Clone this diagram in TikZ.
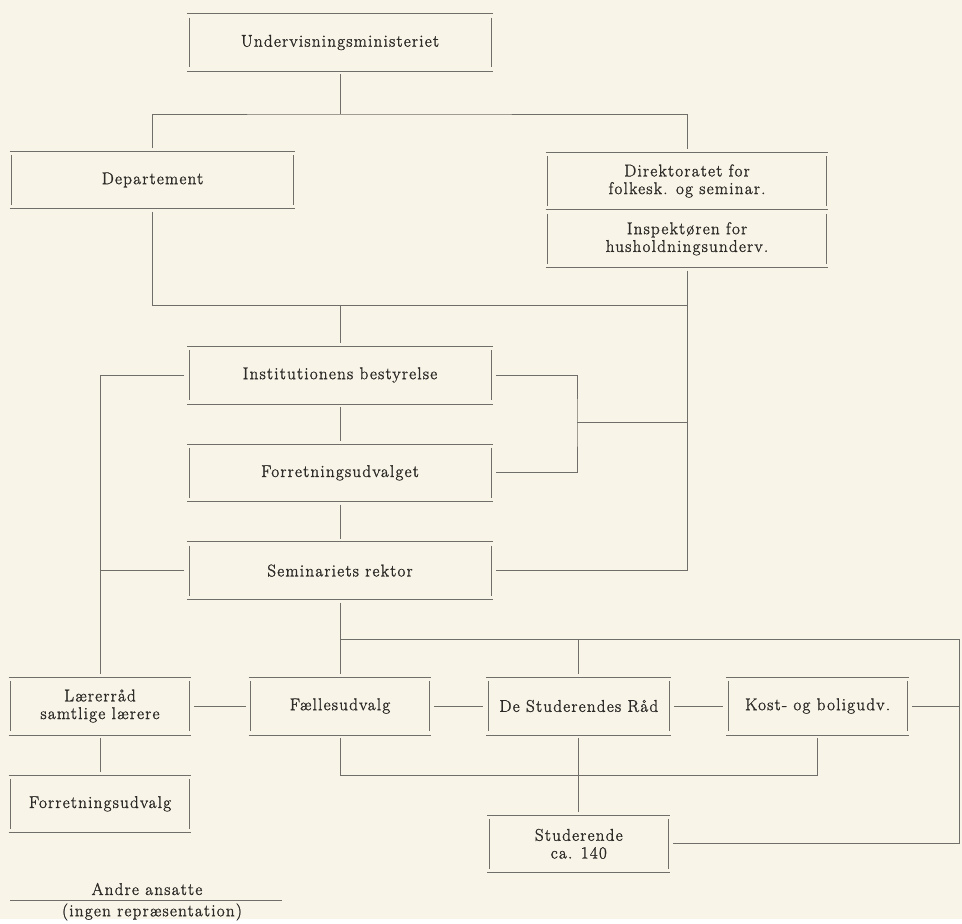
\documentclass[tikz,border=0pt]{standalone}
\usepackage{fontspec}
\setmainfont{Latin Modern Roman}[LetterSpace=7.5, FakeBold=1.5]
\usepackage{xcolor}
\usetikzlibrary{positioning}

\definecolor{paper}{RGB}{248,244,232}
\definecolor{ink}{RGB}{45,43,40}
\definecolor{rule}{RGB}{112,110,104}

\begin{document}
\begin{tikzpicture}[x=1pt, y=-1pt, node distance=34pt,
		font=\fontsize{17}{17.7}\selectfont, text=ink,
		every path/.style={draw=rule, line width=0.8pt},
		boxline/.style={draw=rule, line width=0.8pt},
		box/.style={inner sep=0pt, minimum height=63pt, align=center,
			append after command={
				([shift={(3pt,-3pt)}]\tikzlastnode.north west) edge[boxline] ([shift={(-3pt,-3pt)}]\tikzlastnode.north east)
				([shift={(3pt,3pt)}]\tikzlastnode.south west) edge[boxline] ([shift={(-3pt,3pt)}]\tikzlastnode.south east)
				([shift={(5pt,-7pt)}]\tikzlastnode.north west) edge[boxline] ([shift={(5pt,7pt)}]\tikzlastnode.south west)
				([shift={(-5pt,-7pt)}]\tikzlastnode.north east) edge[boxline] ([shift={(-5pt,7pt)}]\tikzlastnode.south east)
			}},
		wide/.style={box, minimum width=311pt},
		small/.style={box, minimum width=188pt}]

			\fill[paper, draw=none] (0,0) rectangle (962,919);

			\node[wide] (minist) at (340,42.5) {Undervisningsministeriet};
			\node[box, minimum width=291pt] (dept) at (152.5,180) {Departement};
			\node[box, minimum width=288pt] (direk) at (687,181) {Direktoratet for\\folkesk. og seminar.};
			\node[box, minimum width=288pt] (insp)[below=-6pt of direk] {Inspektøren for\\husholdningsunderv.};

			\node[wide] (inst) at (340,375) {Institutionens bestyrelse};
			\node[wide] (forr)[below=34pt of inst] {Forretningsudvalget};
			\node[wide] (semi)[below=34pt of forr] {Seminariets rektor};

			\node[small] (laerer) at (100,706) {Lærerråd\\samtlige lærere};
			\node[small] (forru)[below=34pt of laerer] {Forretningsudvalg};
			\node[small] (faelles) at (340,706) {Fællesudvalg};
			\node[small, minimum width=190pt] (studraad)[right=49pt of faelles] {De Studerendes Råd};
			\node[small] (kost)[right=49pt of studraad] {Kost- og boligudv.};
			\node[small] (stud)[below=74pt of studraad] {Studerende\\ca. 140};

			\node (andre) at (147,889) {Andre ansatte};
			\node (ingen) at (152,912) {(ingen repræsentation)};
			\draw (10,900) -- (282,900);

			\coordinate (b1) at (340,114);
			\coordinate (b2) at (340,305);
			\coordinate (r1) at (577,422);
			\coordinate (b3) at (340,639);
			\coordinate (rc) at (959,639);
			\coordinate (b4) at (580,775);

			% top part
			\draw (minist.south) -- (b1);
			\draw (dept.north) |- (b1) -| (direk.north);
			\draw (dept.south) |- (insp.south |- b2);
			\draw (b2) -- (inst.north);
			\draw (insp.south) |- (semi.east);

			% board and rector
			\draw (inst.west) -| (laerer.north);
			\draw (semi.west) -- (semi.west -| laerer.north);
			\draw (inst.east) -| (r1) |- (forr.east);
			\draw (r1) -- (r1 -| insp.south);
			\draw (inst.south) -- (forr.north);
			\draw (forr.south) -- (semi.north);

			% lower row
			\draw (semi.south) -- (faelles.north);
			\draw (b3) -- (rc) |- (stud.east);
			\draw (b3 -| studraad.north) -- (studraad.north);
			\draw (laerer.east) -- (faelles.west);
			\draw (faelles.east) -- (studraad.west);
			\draw (studraad.east) -- (kost.west);
			\draw (kost.east) -- (kost.east -| rc);
			\draw (laerer.south) -- (forru.north);
			\draw (faelles.south) |- (b4 -| kost.south) -- (kost.south);
			\draw (studraad.south) -- (stud.north);
		\end{tikzpicture}
\end{document}
